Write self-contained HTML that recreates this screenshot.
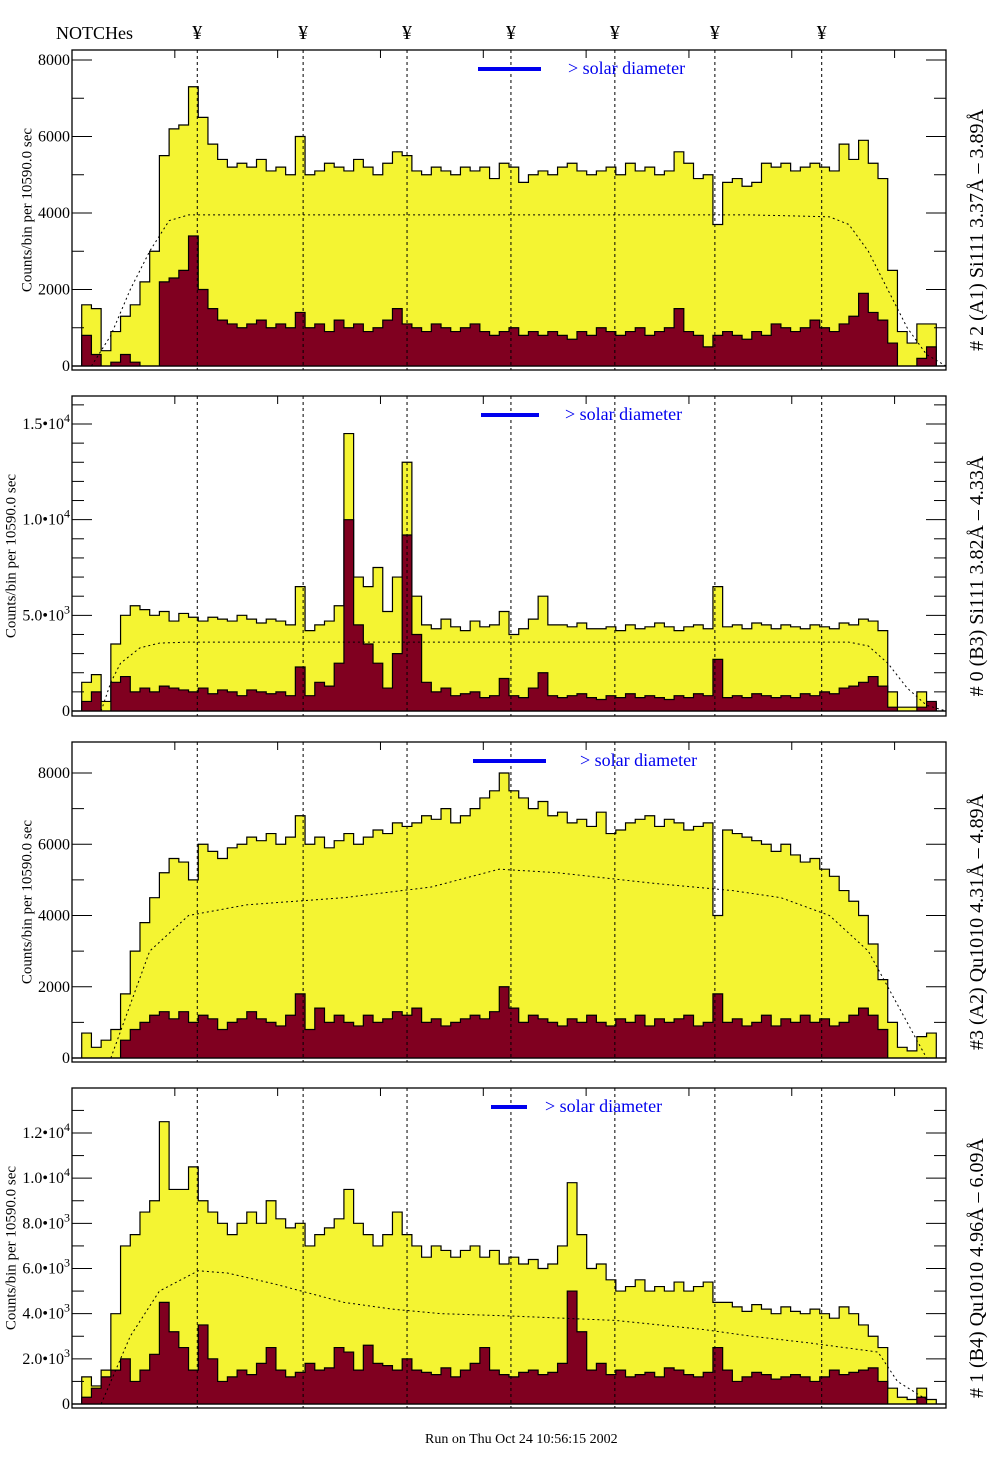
<!DOCTYPE html>
<html><head><meta charset="utf-8">
<style>
body{margin:0;background:#fff;}
svg{display:block;font-family:"Liberation Serif","DejaVu Serif",serif;}
</style></head>
<body>
<svg id="chart" width="1004" height="1477" viewBox="0 0 1004 1477" xmlns="http://www.w3.org/2000/svg">
<text x="56" y="39" font-size="18">NOTCHes</text>
<text x="425" y="1443" font-size="14">Run on Thu Oct 24 10:56:15 2002</text>
</svg>
<script>
// notch positions in bin units
const notchBins = [12.9, 23.8, 34.5, 45.2, 55.9, 66.2, 77.2];
const p1Yellow = [0,1600,1500,400,900,1300,1600,2200,3000,5500,6200,6300,7300,6500,5800,5400,5200,5300,5200,5400,5100,5200,5000,6000,5000,5100,5300,5200,5100,5400,5200,5000,5300,5600,5500,5100,5000,5200,5100,5000,5200,5100,5200,4900,5300,5200,4800,5000,5100,5000,5200,5300,5100,5000,5100,5200,5000,5300,5100,5200,5000,5100,5600,5300,4900,5000,3700,4800,4900,4700,4800,5300,5200,5300,5100,5200,5300,5200,5100,5800,5400,5900,5300,4900,2500,900,600,1100,1100,0];
const p1Red = [0,800,300,0,100,300,100,0,0,2200,2300,2500,3400,2000,1500,1200,1100,1000,1100,1200,1000,1100,1000,1400,1000,1100,900,1200,1000,1100,900,1000,1200,1500,1100,1000,900,1100,1000,900,1000,1100,900,800,900,1000,800,900,800,900,800,700,900,800,1000,900,800,900,1000,800,900,1000,1500,900,800,500,800,900,800,700,900,800,1100,1000,900,1000,1200,1000,900,1100,1300,1900,1400,1200,600,0,0,200,500,0];
const p2Yellow = [0,1500,1900,500,3500,5000,5500,5300,5000,5200,4700,5100,4900,4700,4900,4800,4700,5000,4800,4600,4800,4700,4500,6500,4200,4500,4700,5500,14500,7000,6500,7500,5200,7000,13000,6000,4500,4300,4800,4400,4200,4700,4400,4500,5200,4000,4300,4800,6000,4500,4500,4400,4600,4300,4300,4400,4200,4500,4300,4400,4600,4400,4200,4400,4500,4300,6500,4400,4500,4300,4600,4500,4300,4500,4400,4300,4500,4400,4300,4600,4500,4800,4700,4200,1000,200,200,1000,400,0];
const p2Red = [0,500,1000,0,1500,1800,1000,1200,1000,1300,1200,1100,1000,1200,900,1100,1000,800,1100,1000,900,1000,800,2300,800,1500,1300,2500,10000,4500,3500,2500,1200,3000,9200,4000,1500,1000,1200,800,900,1000,700,800,1700,800,700,1200,2000,800,700,800,900,700,600,800,700,900,700,800,700,600,800,700,900,800,2700,700,800,700,900,800,700,800,700,900,800,1000,900,1200,1300,1500,1800,1300,200,0,0,200,500,0];
const p3Yellow = [0,700,300,500,800,1800,3000,3800,4500,5200,5600,5500,5000,6000,5800,5600,5900,6000,6200,6100,6300,6000,6200,6800,6000,6200,5900,6100,6300,6000,6200,6400,6300,6600,6500,6600,6800,6700,7000,6600,6800,7000,7300,7500,8000,7500,7300,7000,7200,6800,6900,6600,6700,6500,6900,6300,6400,6600,6700,6800,6500,6700,6600,6400,6500,6600,4000,6400,6300,6200,6100,6000,5800,6000,5700,5500,5600,5300,5100,4700,4400,4000,3200,2200,1000,300,200,600,700,0];
const p3Red = [0,0,0,0,0,500,800,1000,1200,1300,1100,1300,1000,1200,1100,800,1000,1100,1300,1100,1000,900,1200,1800,800,1400,1000,1200,1000,900,1200,1000,1100,1300,1200,1400,1000,1100,900,1000,1100,1200,1100,1300,2000,1400,1000,1200,1100,1000,900,1100,1000,1200,1000,900,1100,1000,1200,900,1100,1000,1100,1200,900,1000,1800,1000,1100,900,1000,1200,900,1100,1000,1200,1000,1100,900,1000,1200,1400,1200,800,0,0,0,0,0,0];
const p4Yellow = [0,1200,800,1500,4000,7000,7500,8500,9000,12500,9500,9500,10500,9000,8500,8000,7500,8000,8500,8000,9000,8200,7800,8000,7000,7500,7800,8200,9500,8000,7500,7000,7500,8500,7500,7000,6500,7000,6800,6500,6800,7000,6500,6800,6200,6500,6200,6400,6000,6200,7000,9800,7500,6000,6200,5500,5000,5200,5500,5000,5200,5000,5400,5000,5200,5400,4500,4500,4300,4100,4400,4200,4000,4300,4100,4000,4200,4000,3800,4300,4000,3500,3000,2500,700,300,200,700,200,0];
const p4Red = [0,300,700,1200,1500,2000,1000,1500,2200,4500,3200,2500,1500,3500,2000,1000,1200,1500,1300,1800,2500,1500,1200,1400,1800,1500,1600,2500,2300,1500,2600,1800,1700,1500,2000,1500,1400,1300,1600,1200,1500,1800,2500,1500,1300,1200,1400,1500,1300,1400,1800,5000,3200,1500,1800,1300,1500,1200,1300,1400,1200,1600,1500,1300,1200,1400,2500,1500,1000,1200,1400,1300,1100,1200,1300,1200,1000,1200,1500,1300,1400,1500,1600,1000,0,0,0,300,0,0];
// model curves: bin index -> value
const p1ModelBins = [2,4,6,8,10,12,40,70,78,80,82,84,86,88,90];
const p1ModelVals = [0,800,2000,3000,3800,3950,3950,3950,3900,3700,3000,2000,1000,300,0];
const p2ModelBins = [3,4,5,7,9,12,40,80,82,84,86,88,90];
const p2ModelVals = [0,1500,2500,3300,3550,3600,3600,3600,3400,2500,1200,300,0];
const p3ModelBins = [4,6,8,12,18,28,37,44,50,60,68,73,78,82,85,88];
const p3ModelVals = [0,1500,3000,4000,4300,4500,4800,5300,5200,4900,4700,4500,4000,3000,1500,0];
const p4ModelBins = [3,6,9,13,16,21,28,33,38,45,56,65,70,76,83,85,88];
const p4ModelVals = [0,3000,5000,5900,5800,5300,4500,4200,4000,3900,3700,3300,3000,2700,2300,1000,200];

const panels = [
 {top:50,bot:370,zero:366,max:8000,maxPx:60,yel:p1Yellow,red:p1Red,mb:p1ModelBins,mv:p1ModelVals,
  ticks:[0,2000,4000,6000,8000],labels:['0','2000','4000','6000','8000'],minor:1000,tx:22,
  right:'# 2 (A1) Si111  3.37Å – 3.89Å',bar:[478,541],txt:568},
 {top:396,bot:716,zero:711,max:15000,maxPx:424,yel:p2Yellow,red:p2Red,mb:p2ModelBins,mv:p2ModelVals,
  ticks:[0,5000,10000,15000],labels:['0','5.0•10|3','1.0•10|4','1.5•10|4'],minor:1000,tx:6,
  right:'# 0 (B3) Si111  3.82Å – 4.33Å',bar:[481,539],txt:565},
 {top:742,bot:1062,zero:1058,max:8000,maxPx:773,yel:p3Yellow,red:p3Red,mb:p3ModelBins,mv:p3ModelVals,
  ticks:[0,2000,4000,6000,8000],labels:['0','2000','4000','6000','8000'],minor:1000,tx:22,
  right:'#3 (A2) Qu1010  4.31Å – 4.89Å',bar:[473,546],txt:580},
 {top:1088,bot:1408,zero:1404,max:12000,maxPx:1133,yel:p4Yellow,red:p4Red,mb:p4ModelBins,mv:p4ModelVals,
  ticks:[0,2000,4000,6000,8000,10000,12000],labels:['0','2.0•10|3','4.0•10|3','6.0•10|3','8.0•10|3','1.0•10|4','1.2•10|4'],minor:1000,tx:6,
  right:'# 1 (B4) Qu1010 4.96Å – 6.09Å',bar:[491,527],txt:545}
];
const NS='http://www.w3.org/2000/svg';
const svg=document.getElementById('chart');
const X0=72,X1=946,NB=90;
const xb=i=>X0+i*(X1-X0)/NB;
function mk(tag,attrs,parent){const e=document.createElementNS(NS,tag);for(const k in attrs)e.setAttribute(k,attrs[k]);(parent||svg).appendChild(e);return e;}

notchBins.forEach((b,i)=>{
 const t=mk('text',{x:xb(b),y:39,'font-size':20,'text-anchor':'middle'});
 
 
 t.textContent='¥';
});

panels.forEach((p,pi)=>{
 const g=mk('g',{});
 
 
 const ys=v=>p.zero-(v/p.max)*(p.zero-p.maxPx);
 const yc=v=>Math.max(p.top,ys(v));
 function hist(arr,fill,name){
  let d='M'+xb(0)+','+p.zero;
  arr.forEach((v,i)=>{d+=' L'+xb(i)+','+yc(v)+' L'+xb(i+1)+','+yc(v);});
  d+=' L'+xb(NB)+','+p.zero+' Z';
  const e=mk('path',{d:d,fill:fill,stroke:'#000','stroke-width':1.2},g);
  
  
 }
 hist(p.yel,'#f4f432','total-counts-histogram');
 hist(p.red,'#800020','background-counts-histogram');
 let md='';
 p.mb.forEach((b,i)=>{md+=(i?' L':'M')+xb(b)+','+ys(p.mv[i]);});
 const m=mk('path',{d:md,fill:'none',stroke:'#000','stroke-width':1,'stroke-dasharray':'2,3'},g);
 
 
 notchBins.forEach(b=>{
  const l=mk('line',{x1:xb(b),x2:xb(b),y1:p.top,y2:p.bot,stroke:'#000','stroke-width':1,'stroke-dasharray':'3,3'},g);
  
  
 });
 const f=mk('rect',{x:X0,y:p.top,width:X1-X0,height:p.bot-p.top,fill:'none',stroke:'#000','stroke-width':1.3},g);
 
 
 for(let v=0;v<=p.max*1.1;v+=p.minor){
  const y=ys(v); if(y<p.top) break;
  const big=p.ticks.includes(v);
  mk('line',{x1:X0,x2:X0+(big?20:12),y1:y,y2:y,stroke:'#000','stroke-width':1},g);
  mk('line',{x1:X1,x2:X1-(big?20:12),y1:y,y2:y,stroke:'#000','stroke-width':1},g);
 }
 for(let i=0;i<=8;i++){const x=X0+i*(X1-X0)/8.5;
  mk('line',{x1:x,x2:x,y1:p.top,y2:p.top+8,stroke:'#000'},g);}
 p.ticks.forEach((v,i)=>{
  const t=mk('text',{x:X0-2,y:ys(v)+5,'font-size':16,'text-anchor':'end'},g);
  
  
  const parts=p.labels[i].split('|');
  t.textContent=parts[0];
  if(parts[1]){const s=mk('tspan',{dy:-7,'font-size':12},t);s.textContent=parts[1];}
 });
 const yt=mk('text',{transform:'translate('+p.tx+','+((p.top+p.bot)/2)+') rotate(-90)','font-size':15,'text-anchor':'middle','dominant-baseline':'hanging'},g);
 
 
 yt.textContent='Counts/bin per  10590.0 sec';
 const rt=mk('text',{transform:'translate(983,'+((p.top+p.bot)/2+20)+') rotate(-90)','font-size':20,'text-anchor':'middle'},g);
 
 
 rt.textContent=p.right;
 const bar=mk('rect',{x:p.bar[0],y:p.top+17,width:p.bar[1]-p.bar[0],height:4,fill:'#0000ee'},g);
 
 
 const st=mk('text',{x:p.txt,y:p.top+24,'font-size':18,fill:'#0000ee'},g);
 
 
 st.textContent='> solar diameter';
});
</script>
</body></html>
